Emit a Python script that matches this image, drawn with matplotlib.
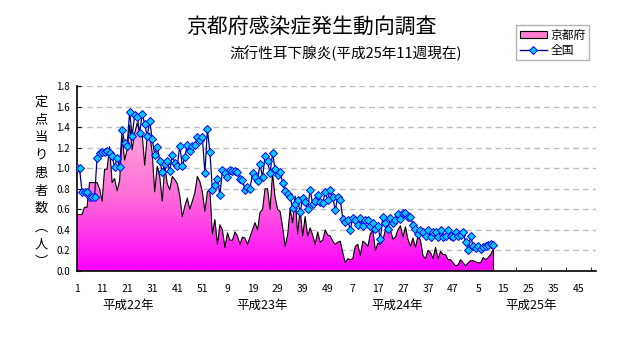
import numpy as np
import matplotlib
matplotlib.use('Agg')
import matplotlib.pyplot as plt
from matplotlib.colors import LinearSegmentedColormap
from matplotlib.patches import Patch
from matplotlib.lines import Line2D

plt.rcParams['font.family'] = ['Noto Sans CJK JP', 'DejaVu Sans']

# 京都府 定点当り患者数 (週別)
kyoto_h22 = [0.55, 0.55, 0.55, 0.62, 0.62, 0.86, 0.86, 0.86, 0.86, 0.80,
             0.68, 0.99, 0.99, 1.21, 0.86, 0.90, 0.78, 0.88, 1.30, 1.08,
             1.18, 1.42, 1.18, 1.34, 1.44, 1.35, 1.33, 1.03, 1.31, 1.34,
             1.15, 0.77, 1.02, 0.92, 0.68, 1.02, 0.85, 0.79, 0.92, 0.89,
             0.85, 0.73, 0.53, 0.63, 0.71, 0.60, 0.68, 0.76, 0.92, 0.87,
             0.77, 0.58]
kyoto_h23 = [0.77, 0.79, 0.36, 0.50,
             0.26, 0.45, 0.40, 0.23, 0.37, 0.30, 0.30, 0.38, 0.34, 0.26,
             0.33, 0.32, 0.26, 0.33, 0.40, 0.47, 0.40, 0.57, 0.60, 0.80,
             0.80, 0.60, 0.95, 0.72, 0.60, 0.58, 0.43, 0.24, 0.35, 0.60,
             0.47, 0.73, 0.36, 0.60, 0.34, 0.53, 0.34, 0.42, 0.35, 0.26,
             0.38, 0.28, 0.30, 0.40, 0.35, 0.34, 0.29, 0.26]
kyoto_h24 = [0.28, 0.29, 0.18, 0.08, 0.12,
             0.11, 0.12, 0.24, 0.26, 0.15, 0.29, 0.27, 0.24, 0.36, 0.40,
             0.20, 0.27, 0.26, 0.30, 0.40, 0.44, 0.40, 0.31, 0.33, 0.40,
             0.44, 0.33, 0.43, 0.31, 0.24, 0.32, 0.23, 0.34, 0.30, 0.15,
             0.12, 0.20, 0.18, 0.12, 0.23, 0.12, 0.19, 0.16, 0.16, 0.11,
             0.11, 0.08, 0.05, 0.06, 0.11, 0.08, 0.05]
kyoto_h25 = [0.08, 0.10, 0.10, 0.09, 0.08, 0.08, 0.13, 0.11, 0.13, 0.16, 0.21]

# 全国
zenkoku_h22 = [1.00, 1.00, 0.77, 0.77, 0.77, 0.72, 0.72, 0.72, 1.10, 1.15,
               1.16, 1.16, 1.17, 1.15, 1.12, 1.01, 1.10, 1.01, 1.37, 1.25,
               1.22, 1.55, 1.31, 1.52, 1.50, 1.34, 1.53, 1.43, 1.31, 1.46,
               1.28, 1.13, 1.21, 1.07, 0.96, 1.04, 1.07, 0.97, 1.13, 1.05,
               1.02, 1.22, 1.02, 1.11, 1.23, 1.17, 1.22, 1.23, 1.30, 1.27,
               1.30, 0.95]
zenkoku_h23 = [1.38, 1.16, 0.79, 0.84,
               0.90, 0.74, 0.98, 0.95, 0.91, 0.98, 0.97, 0.97, 0.96, 0.90,
               0.89, 0.79, 0.82, 0.80, 0.95, 0.91, 0.88, 1.04, 0.91, 1.12,
               1.07, 0.95, 1.15, 0.99, 0.93, 0.96, 0.86, 0.78, 0.75, 0.72,
               0.61, 0.65, 0.69, 0.57, 0.71, 0.67, 0.60, 0.79, 0.65, 0.68,
               0.74, 0.67, 0.66, 0.77, 0.69, 0.79, 0.72, 0.59]
zenkoku_h24 = [0.72, 0.69, 0.51, 0.48, 0.50,
               0.40, 0.52, 0.50, 0.45, 0.52, 0.44, 0.50, 0.50, 0.44, 0.47,
               0.41, 0.44, 0.31, 0.53, 0.47, 0.41, 0.52, 0.47, 0.50, 0.55,
               0.51, 0.56, 0.56, 0.53, 0.53, 0.45, 0.41, 0.36, 0.40, 0.38,
               0.34, 0.40, 0.33, 0.38, 0.38, 0.33, 0.40, 0.33, 0.34, 0.40,
               0.34, 0.33, 0.38, 0.34, 0.35, 0.38, 0.28]
zenkoku_h25 = [0.20, 0.34, 0.24, 0.22, 0.24, 0.21, 0.23, 0.24, 0.25, 0.26, 0.25]

week_labels = ['1', '11', '21', '31', '41', '51', '9', '19', '29', '39', '49',
               '7', '17', '27', '37', '47', '5', '15', '25', '35', '45']
year_labels = ['平成22年', '平成23年', '平成24年', '平成25年']
n_weeks_total = 208  # 4年 x 52週

title = '京都府感染症発生動向調査'
subtitle = '流行性耳下腺炎(平成25年11週現在)'
ylabel = '定点当り患者数︵人︶'

kyoto = np.array(kyoto_h22 + kyoto_h23 + kyoto_h24 + kyoto_h25)
zenkoku = np.array(zenkoku_h22 + zenkoku_h23 + zenkoku_h24 + zenkoku_h25)
weeks = np.arange(1, len(kyoto) + 1)

W, H = 632, 348
fig = plt.figure(figsize=(W / 100, H / 100), dpi=100)
ax = fig.add_axes([77 / W, 77 / H, 519 / W, 185 / H])

# 京都府: グラデーション塗りの面グラフ
cmap = LinearSegmentedColormap.from_list('kyo', ['#FF00FF', '#FF6FD8', '#FFAEE0'])
grad = np.linspace(0, 1, 256).reshape(-1, 1)
im = ax.imshow(grad, extent=[1, len(kyoto), 0, 1.5], origin='lower',
               aspect='auto', cmap=cmap, zorder=2)
poly = ax.fill_between(weeks, kyoto, 0, facecolor='none', edgecolor='none')
im.set_clip_path(poly.get_paths()[0], transform=ax.transData)
ax.plot(weeks, kyoto, color='black', lw=0.8, zorder=3)
ax.plot([weeks[-1], weeks[-1]], [kyoto[-1], 0], color='black', lw=0.8, zorder=3)

# 全国
ax.plot(weeks, zenkoku, color='#000080', lw=0.9, marker='D', ms=4.2,
        mfc='#00CCFF', mec='#0000FF', mew=0.7, zorder=4)

ax.set_xlim(1, n_weeks_total)
ax.set_ylim(0, 1.8)

ax.yaxis.grid(True, linestyle=(0, (4, 3)), color='#BDBDBD', lw=1)
ax.set_axisbelow(True)
for s in ['top', 'right']:
    ax.spines[s].set_visible(False)
for s in ['left', 'bottom']:
    ax.spines[s].set_color('black')
    ax.spines[s].set_linewidth(1.2)

label_pos = [1 + 10 * i for i in range(len(week_labels))]
ax.set_xticks(label_pos)
ax.set_xticklabels(week_labels, fontsize=7.5)
ax.set_xticks(np.arange(1, n_weeks_total + 1, 5), minor=True)
ax.tick_params(axis='x', which='major', length=0, pad=9)
ax.tick_params(axis='x', which='minor', length=3, direction='in', color='black')

yt = np.arange(0, 1.81, 0.2)
ax.set_yticks(yt)
ax.set_yticklabels(['%.1f' % v for v in yt], fontsize=7)
ax.tick_params(axis='y', length=3, direction='in', pad=5)

for k, lab in enumerate(year_labels):
    ax.text(21.5 + 53.5 * k, -0.185, lab, transform=ax.get_xaxis_transform(),
            ha='center', va='center', fontsize=9)

# 縦書きの軸ラベル
for i, ch in enumerate(ylabel):
    fig.text(41 / W, 1 - (102 + 17.8 * i) / H, ch, ha='center', va='center',
             fontsize=9.5)

fig.text(311 / W, 1 - 27 / H, title, ha='center', va='center', fontsize=15)
fig.text(346 / W, 1 - 53 / H, subtitle, ha='center', va='center', fontsize=10.5)

handles = [Patch(facecolor='#FF80D0', edgecolor='black', lw=0.8),
           Line2D([], [], color='#000080', lw=1, marker='D', ms=4,
                  mfc='#00CCFF', mec='#0000FF', mew=0.7)]
leg = fig.legend(handles, ['京都府', '全国'], loc='upper left',
                 bbox_to_anchor=(516 / W, 1 - 25 / H), fontsize=8.5,
                 frameon=True, fancybox=False, edgecolor='#A0A0A0',
                 handlelength=2.3, handleheight=0.6, borderpad=0.3,
                 labelspacing=0.2, handletextpad=0.3, borderaxespad=0)
leg.get_frame().set_linewidth(1)

fig.savefig('out.png', dpi=100)
